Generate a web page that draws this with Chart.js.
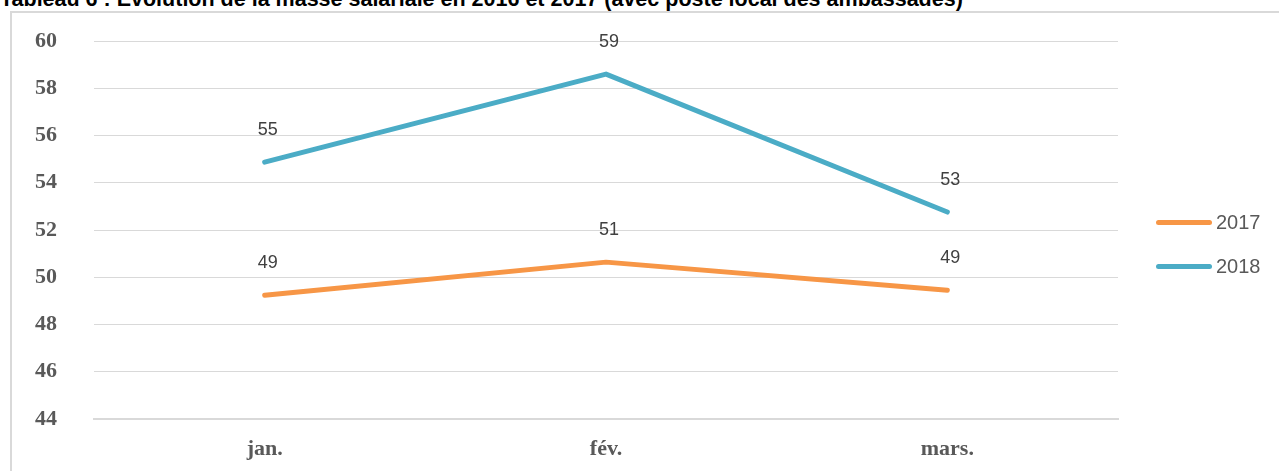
<!DOCTYPE html>
<html lang="fr">
<head>
<meta charset="utf-8">
<title>Evolution de la masse salariale</title>
<script src="https://cdn.jsdelivr.net/npm/chart.js@4.4.1/dist/chart.umd.min.js"></script>
<style>
  html, body { margin: 0; padding: 0; background: #fff; overflow: hidden; }
  body { width: 1279px; height: 471px; position: relative; }
  #title {
    position: absolute; left: 0; top: -13px; white-space: nowrap;
    font: bold 21.5px "Liberation Sans", Arial, sans-serif; line-height: 24px; color: #000;
  }
  #frame {
    position: absolute; left: 10px; top: 11px; width: 1300px; height: 500px;
    border: 2px solid #d9d9d9; box-sizing: border-box;
  }
  #chart { position: absolute; left: 0; top: 0; }
  .legend { position: absolute; left: 1156px; font: 20px "Liberation Sans", Arial, sans-serif; color: #595959; }
  .legend .item { position: absolute; left: 0; height: 20px; white-space: nowrap; }
  .legend .swatch { position: absolute; left: 0; top: 8px; width: 56px; height: 5px; border-radius: 3px; }
  .legend .txt { position: absolute; left: 60px; top: 0; line-height: 20px; }
</style>
</head>
<body>
<div id="frame"></div>
<div id="title">Tableau 6 : Evolution de la masse salariale en 2016 et 2017 (avec poste local des ambassades)</div>
<canvas id="chart" width="1279" height="471"></canvas>
<div class="legend" id="legend"></div>
<script>
// Months on the category axis
const months = ['jan.', 'fév.', 'mars.'];
// Payroll per month, by year
const values2017 = [49.24, 50.64, 49.45];
const values2018 = [54.87, 58.6, 52.76];
// Value axis bounds and step
const yMin = 44;
const yMax = 60;
const yStep = 2;

const orange = '#F79646';
const blue = '#4BACC6';

// Value labels written above each point of the lines
const pointLabels = {
  id: 'pointLabels',
  afterDatasetsDraw(chart) {
    const ctx = chart.ctx;
    ctx.save();
    ctx.font = '18px "Liberation Sans", Arial, sans-serif';
    ctx.fillStyle = '#404040';
    ctx.textAlign = 'center';
    ctx.textBaseline = 'middle';
    chart.data.datasets.forEach((ds, i) => {
      const meta = chart.getDatasetMeta(i);
      meta.data.forEach((pt, j) => {
        ctx.fillText(String(Math.round(ds.data[j])), pt.x + 3, pt.y - 32);
      });
    });
    ctx.restore();
  }
};

const chart = new Chart(document.getElementById('chart'), {
  type: 'line',
  data: {
    labels: months,
    datasets: [
      { label: '2017', data: values2017, borderColor: orange, backgroundColor: orange,
        borderWidth: 5, pointRadius: 0, tension: 0, borderCapStyle: 'round', borderJoinStyle: 'round' },
      { label: '2018', data: values2018, borderColor: blue, backgroundColor: blue,
        borderWidth: 5, pointRadius: 0, tension: 0, borderCapStyle: 'round', borderJoinStyle: 'round' }
    ]
  },
  options: {
    responsive: false,
    animation: false,
    layout: { padding: { top: 41, right: 161, left: 0, bottom: 0 } },
    plugins: { legend: { display: false }, tooltip: { enabled: false } },
    scales: {
      x: {
        offset: true,
        grid: { display: false, drawTicks: false },
        border: { display: true, color: '#d9d9d9', width: 2 },
        ticks: { color: '#595959', padding: 17, font: { family: '"Liberation Serif", "Times New Roman", serif', size: 22, weight: 'bold' } },
        afterFit(scale) { scale.height = 52; }
      },
      y: {
        min: yMin, max: yMax,
        grid: { color: '#d9d9d9', lineWidth: 1, drawTicks: false },
        border: { display: false },
        ticks: { stepSize: yStep, color: '#595959', padding: 37, font: { family: '"Liberation Serif", "Times New Roman", serif', size: 22, weight: 'bold' } },
        afterFit(scale) {
          scale.width = 94;
          scale.paddingTop = 0;
          scale.paddingBottom = 0;
        }
      }
    }
  },
  plugins: [pointLabels]
});

// Legend beside the plot
const legend = document.getElementById('legend');
const legendTops = [212, 256];
chart.data.datasets.forEach((ds, i) => {
  const item = document.createElement('div');
  item.className = 'item';
  item.style.top = legendTops[i] + 'px';
  item.innerHTML = '<div class="swatch" style="background:' + ds.borderColor + '"></div><span class="txt">' + ds.label + '</span>';
  legend.appendChild(item);
});
</script>
</body>
</html>
